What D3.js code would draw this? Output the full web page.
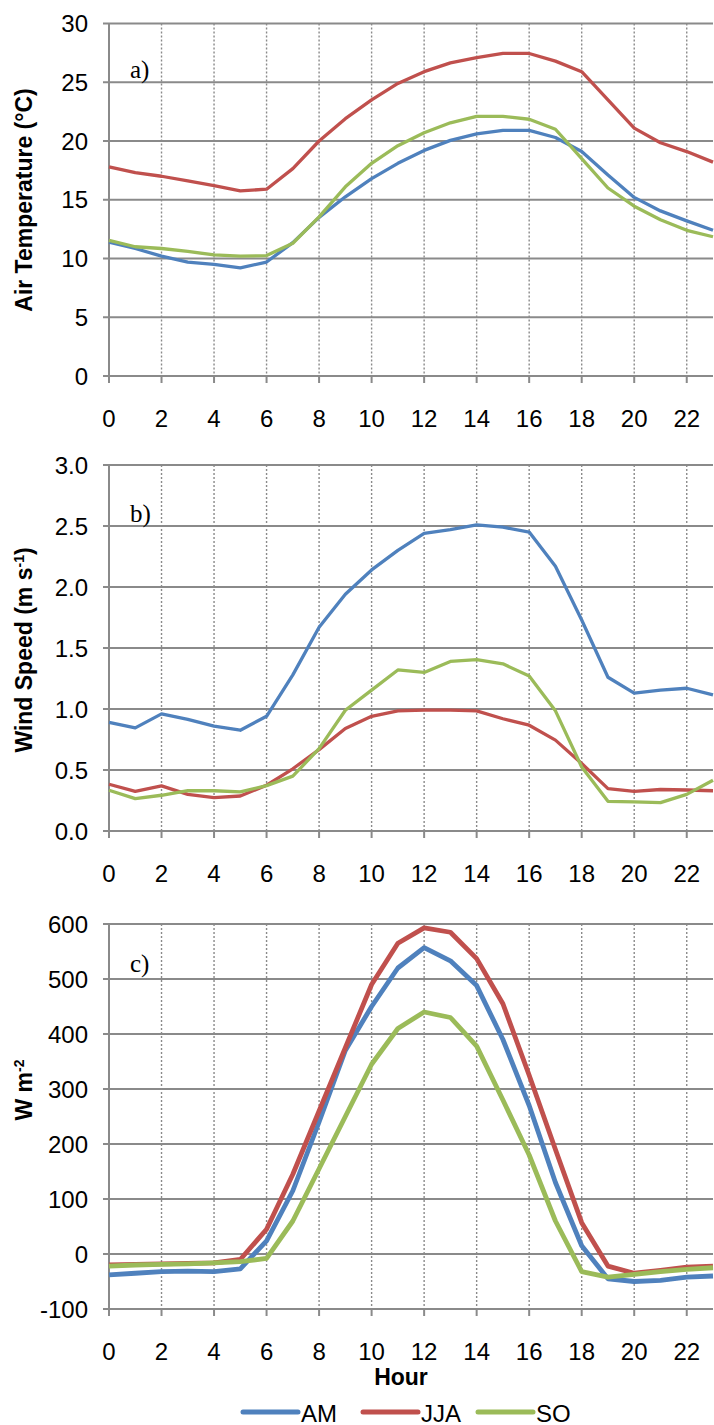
<!DOCTYPE html>
<html><head><meta charset="utf-8">
<script src="https://cdn.jsdelivr.net/npm/d3@7"></script>
<style>
html,body{margin:0;padding:0;background:#fff;}
svg{display:block;}
text{font-family:"Liberation Sans",Arial,sans-serif;fill:#000;}
</style></head>
<body>
<svg id="chart" width="714" height="1425"></svg>
<script>
// ---- data ----
const hours = [0,1,2,3,4,5,6,7,8,9,10,11,12,13,14,15,16,17,18,19,20,21,22,23];
const xTicks = [0,2,4,6,8,10,12,14,16,18,20,22];
const seriesNames = ["AM","JJA","SO"];
const seriesColors = ["#4F81BD","#C0504D","#9BBB59"];

const tempAM  = [11.4,10.85,10.2,9.7,9.5,9.2,9.7,11.35,13.5,15.25,16.8,18.1,19.2,20.05,20.6,20.9,20.9,20.3,19.1,17.1,15.2,14.05,13.2,12.4];
const tempJJA = [17.8,17.3,17.0,16.6,16.2,15.75,15.9,17.65,20.0,21.9,23.5,24.9,25.9,26.65,27.1,27.45,27.45,26.8,25.9,23.5,21.1,19.85,19.1,18.2];
const tempSO  = [11.55,11.0,10.85,10.6,10.3,10.2,10.25,11.3,13.55,16.1,18.1,19.6,20.7,21.55,22.1,22.1,21.85,21.0,18.5,16.0,14.45,13.3,12.4,11.85];

const windAM  = [0.89,0.845,0.96,0.915,0.86,0.826,0.94,1.28,1.67,1.94,2.14,2.30,2.44,2.47,2.51,2.49,2.45,2.17,1.73,1.26,1.13,1.155,1.17,1.115];
const windJJA = [0.383,0.325,0.37,0.30,0.274,0.287,0.375,0.51,0.667,0.84,0.94,0.985,0.99,0.99,0.985,0.92,0.867,0.745,0.553,0.347,0.325,0.34,0.336,0.33];
const windSO  = [0.334,0.265,0.293,0.33,0.33,0.32,0.372,0.45,0.675,0.99,1.155,1.32,1.30,1.39,1.405,1.37,1.27,0.985,0.525,0.243,0.238,0.233,0.30,0.416];

const radAM  = [-38,-35,-32,-31,-32,-27,24,115,240,370,450,520,557,533,488,390,270,130,15,-45,-50,-48,-42,-40];
const radJJA = [-20,-19,-18,-17,-16,-10,45,145,260,375,490,565,593,585,537,455,325,190,57,-22,-35,-30,-24,-22];
const radSO  = [-22,-20,-19,-18,-16,-14,-8,60,155,250,345,410,440,430,378,280,180,60,-32,-42,-37,-32,-28,-25];

const tempTicks = [0,5,10,15,20,25,30];
const windTicks = [0,0.5,1.0,1.5,2.0,2.5,3.0];
const radTicks  = [-100,0,100,200,300,400,500,600];

// ---- layout ----
const svg = d3.select("#chart");
const left = 109, right = 713;
const x = d3.scaleLinear().domain([0,23]).range([left,right]);
const gridColor = "#8a8a8a";
const hy = f => (v => f(v).replace("\u2212","-"));

const panels = [
  {top:23.5, bottom:376, domain:[0,30], ticks:tempTicks, fmt:hy(d3.format("d")), data:[tempAM,tempJJA,tempSO], lw:3.3,
   letter:"a)", letterY:78, title:["Air Temperature (°C)"], titleY:200},
  {top:465, bottom:831, domain:[0,3], ticks:windTicks, fmt:hy(d3.format(".1f")), data:[windAM,windJJA,windSO], lw:3.3,
   letter:"b)", letterY:522, title:["Wind Speed (m s","-1",")"], titleY:650},
  {top:924, bottom:1309, domain:[-100,600], ticks:radTicks, fmt:hy(d3.format("d")), data:[radAM,radJJA,radSO], lw:4.8,
   letter:"c)", letterY:972, title:["W m","-2",""], titleY:1090}
];

panels.forEach(p => {
  const y = d3.scaleLinear().domain(p.domain).range([p.bottom,p.top]);
  const g = svg.append("g");

  g.selectAll(".vg").data(xTicks.filter(d=>d>0)).enter().append("line")
    .attr("x1",d=>x(d)).attr("x2",d=>x(d)).attr("y1",p.top).attr("y2",p.bottom)
    .attr("stroke",gridColor).attr("stroke-width",1.4).attr("stroke-dasharray","2,2");

  g.selectAll(".hg").data(p.ticks).enter().append("line")
    .attr("x1",left-6).attr("x2",right).attr("y1",d=>y(d)).attr("y2",d=>y(d))
    .attr("stroke",gridColor).attr("stroke-width",2);

  g.append("line").attr("x1",left).attr("x2",left).attr("y1",p.top).attr("y2",p.bottom+7)
    .attr("stroke",gridColor).attr("stroke-width",2);

  g.selectAll(".xt").data(xTicks).enter().append("line")
    .attr("x1",d=>x(d)).attr("x2",d=>x(d)).attr("y1",p.bottom).attr("y2",p.bottom+7)
    .attr("stroke",gridColor).attr("stroke-width",2);

  g.selectAll(".yl").data(p.ticks).enter().append("text")
    .attr("x",left-21).attr("y",d=>y(d)).attr("text-anchor","end")
    .attr("dominant-baseline","central").style("font-size","24px")
    .text(d=>p.fmt(d));

  g.selectAll(".xl").data(xTicks).enter().append("text")
    .attr("x",d=>x(d)).attr("y",p.bottom+42).attr("text-anchor","middle")
    .attr("dominant-baseline","central").style("font-size","24px")
    .text(d=>d);

  const line = d3.line().x((d,i)=>x(hours[i])).y(d=>y(d));
  p.data.forEach((s,k) => {
    g.append("path").datum(s).attr("d",line).attr("fill","none")
      .attr("stroke",seriesColors[k]).attr("stroke-width",p.lw)
      .attr("stroke-linejoin","round").attr("stroke-linecap","butt");
  });

  g.append("text").attr("x",130).attr("y",p.letterY)
    .style("font-family","'Liberation Serif','Times New Roman',serif").style("font-size","25px")
    .text(p.letter);

  const t = g.append("text").attr("transform",`translate(32,${p.titleY}) rotate(-90)`)
    .attr("text-anchor","middle").style("font-size","23px").style("font-weight","bold");
  t.append("tspan").text(p.title[0]);
  if (p.title.length > 1) {
    t.append("tspan").attr("dy",-8).style("font-size","14px").text(p.title[1]);
    if (p.title[2]) t.append("tspan").attr("dy",8).text(p.title[2]);
  }
});

svg.append("text").attr("x",401).attr("y",1377).attr("text-anchor","middle")
  .attr("dominant-baseline","central").style("font-size","23px").style("font-weight","bold").text("Hour");

const legX = [243,363,478];
seriesNames.forEach((n,k) => {
  svg.append("line").attr("x1",legX[k]).attr("x2",legX[k]+55).attr("y1",1412).attr("y2",1412)
    .attr("stroke",seriesColors[k]).attr("stroke-width",5).attr("stroke-linecap","round");
  svg.append("text").attr("x",legX[k]+58).attr("y",1413).attr("dominant-baseline","central")
    .style("font-size","24px").text(n);
});
</script>
</body></html>
